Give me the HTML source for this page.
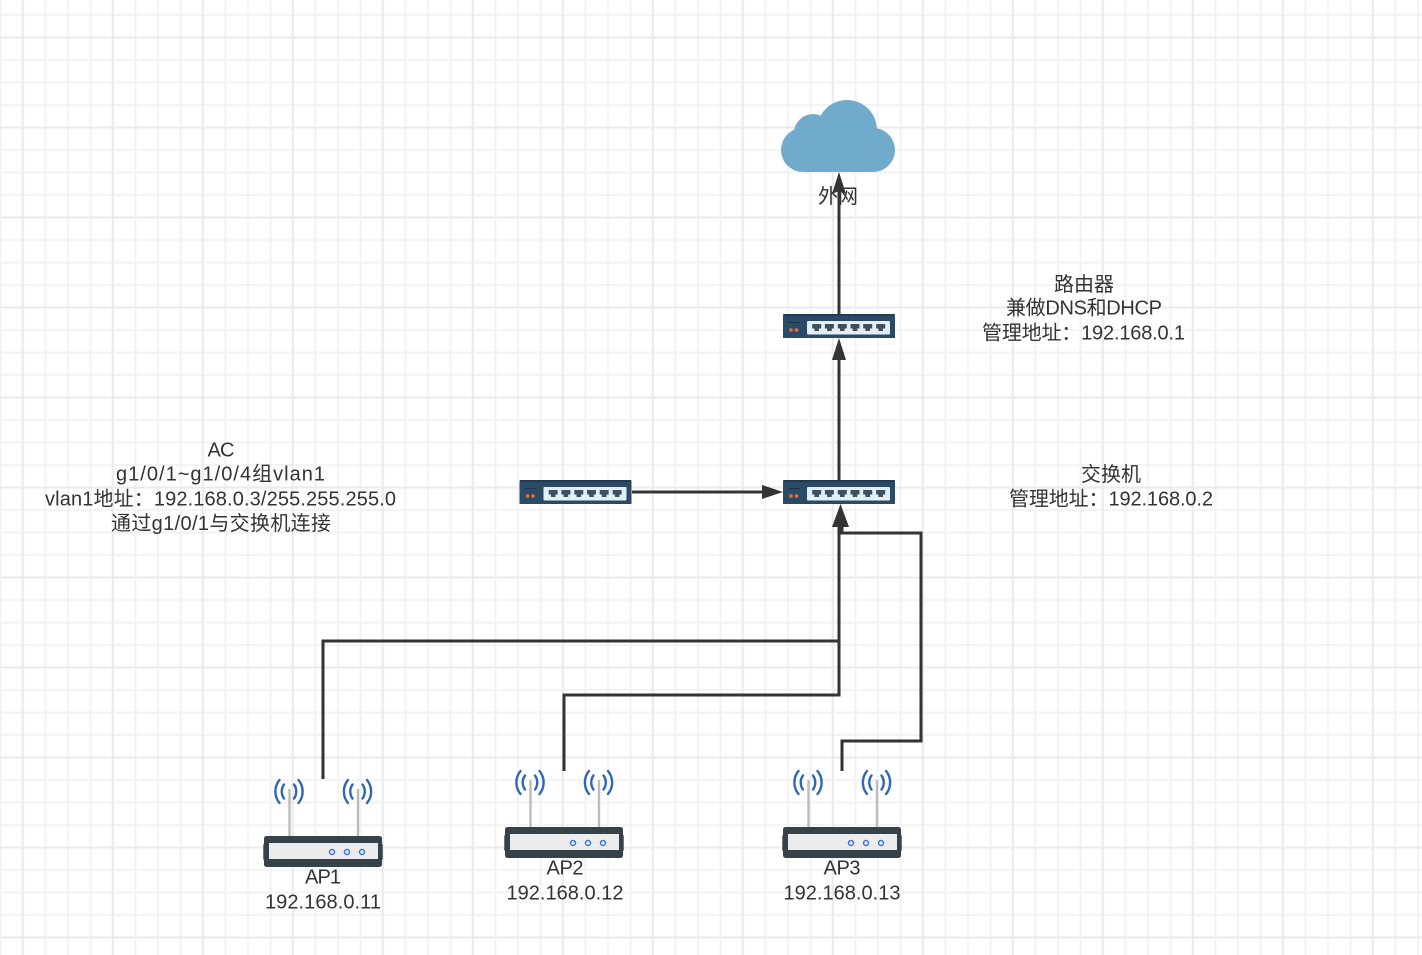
<!DOCTYPE html>
<html><head><meta charset="utf-8"><style>
html,body{margin:0;padding:0;width:1422px;height:955px;overflow:hidden;background:#fff}
svg{display:block}
text{font-family:"Liberation Sans","Noto Sans CJK SC",sans-serif;font-size:20px;fill:#333;text-anchor:middle}
</style></head><body>
<svg width="1422" height="955" viewBox="0 0 1422 955" xmlns="http://www.w3.org/2000/svg">
<defs>
<pattern id="minor" width="22.5" height="22.5" patternUnits="userSpaceOnUse" x="-10.75" y="3.75">
<path d="M0 11.25H22.5M11.25 0V22.5" fill="none" stroke="#f2f2f2" stroke-width="2"/>
</pattern>
<pattern id="major" width="90" height="90" patternUnits="userSpaceOnUse" x="-22.3" y="-7.5">
<path d="M0 45H90M45 0V90" fill="none" stroke="#ebebeb" stroke-width="2"/>
</pattern>
<g id="sw">
<path d="M0 24V3Q0 0 3 0H109Q112 0 112 3V24Z" fill="#2b4a66"/>
<rect x="0" y="0" width="112" height="2" rx="1" fill="#22394f"/>
<rect x="5" y="8" width="12" height="0.8" fill="#1c3044"/>
<circle cx="8" cy="16" r="1.9" fill="#e0693a"/><circle cx="13.5" cy="16" r="1.9" fill="#e0693a"/>
<rect x="24" y="7" width="83" height="13.5" rx="1" fill="#e2eff7"/>
<g fill="#3f4f5e">
<path id="p" d="M29.2 10H38.2V14.5H36V17H31.4V14.5H29.2Z"/>
<use href="#p" x="12.7"/><use href="#p" x="25.6"/><use href="#p" x="38.3"/><use href="#p" x="51"/><use href="#p" x="64"/>
</g>
</g>
<g id="wave" fill="none" stroke="#2f66b5" stroke-width="2.4" stroke-linecap="round">
<path d="M-5 -7C-8 -3 -8 3 -5 7"/>
<path d="M-9.5 -11.5C-15 -5 -15 5 -9.5 11.5"/>
<path d="M5 -7C8 -3 8 3 5 7"/>
<path d="M9.500 -11.5C15 -5 15 5 9.500 11.5"/>
</g>
<g id="ap">
<rect x="24.3" y="19" width="2.4" height="47" fill="#bcbcbc"/>
<rect x="92.8" y="19" width="2.4" height="47" fill="#bcbcbc"/>
<use href="#wave" x="25" y="21.5"/>
<use href="#wave" x="93.5" y="21.5"/>
<rect x="-0.7" y="74" width="119.4" height="16" rx="1" fill="#2e3a40"/>
<rect x="0" y="66" width="118" height="31" rx="2.5" fill="#36424a"/>
<rect x="5" y="73" width="109" height="16" fill="#ececec"/>
<g fill="none" stroke="#3a78d8" stroke-width="1.5">
<circle cx="68" cy="82" r="2.5"/><circle cx="83" cy="82" r="2.5"/><circle cx="98" cy="82" r="2.5"/>
</g>
</g>
</defs>
<rect width="1422" height="955" fill="#fff"/>
<rect width="1422" height="955" fill="url(#minor)"/>
<rect width="1422" height="955" fill="url(#major)"/>

<!-- cloud -->
<g fill="#70abcc">
<circle cx="813" cy="133" r="19"/>
<circle cx="847" cy="130" r="30"/>
<circle cx="803" cy="150" r="22"/>
<circle cx="873" cy="150" r="22"/>
<rect x="803" y="130" width="70" height="42"/>
</g>

<use href="#sw" x="783" y="314"/>
<use href="#sw" x="783" y="480"/>
<use href="#sw" x="519.5" y="480"/>

<use href="#ap" x="264" y="770"/>
<use href="#ap" x="505" y="761"/>
<use href="#ap" x="783" y="761"/>

<!-- connectors -->
<g fill="none" stroke="#333" stroke-width="3">
<path d="M839 314V190"/>
<path d="M839 480V356"/>
<path d="M632 492H766"/>
<path d="M323 779V641H839V520"/>
<path d="M564 771V695H839V520"/>
<path d="M842 771V741H921V533H842V520"/>
</g>
<g fill="#333">
<path d="M839 172L846 194L839 191L832 194Z"/>
<path d="M839 338L846 360L832 360Z"/>
<path d="M783 492L762 485V499Z"/>
<path d="M840.5 504L849 527H832Z"/>
</g>

<!-- labels -->
<text x="838" y="203" textLength="40">外网</text>
<text x="1084" y="291" textLength="60">路由器</text>
<text x="1084" y="314.500" textLength="156">兼做DNS和DHCP</text>
<text x="1083.500" y="339.500" textLength="203">管理地址：192.168.0.1</text>
<text x="1111" y="481" textLength="60">交换机</text>
<text x="1111" y="505.500" textLength="204">管理地址：192.168.0.2</text>
<text x="221" y="456.500" textLength="27">AC</text>
<text x="220.500" y="480.500" textLength="209">g1/0/1~g1/0/4组vlan1</text>
<text x="220.500" y="505.500" textLength="351">vlan1地址：192.168.0.3/255.255.255.0</text>
<text x="221" y="530" textLength="220">通过g1/0/1与交换机连接</text>
<text x="323" y="883.500" textLength="36">AP1</text>
<text x="323" y="908.500" textLength="116">192.168.0.11</text>
<text x="565" y="874.500" textLength="37">AP2</text>
<text x="565" y="899.500" textLength="117">192.168.0.12</text>
<text x="842" y="874.500" textLength="37">AP3</text>
<text x="842" y="899.500" textLength="117">192.168.0.13</text>
</svg>
</body></html>
